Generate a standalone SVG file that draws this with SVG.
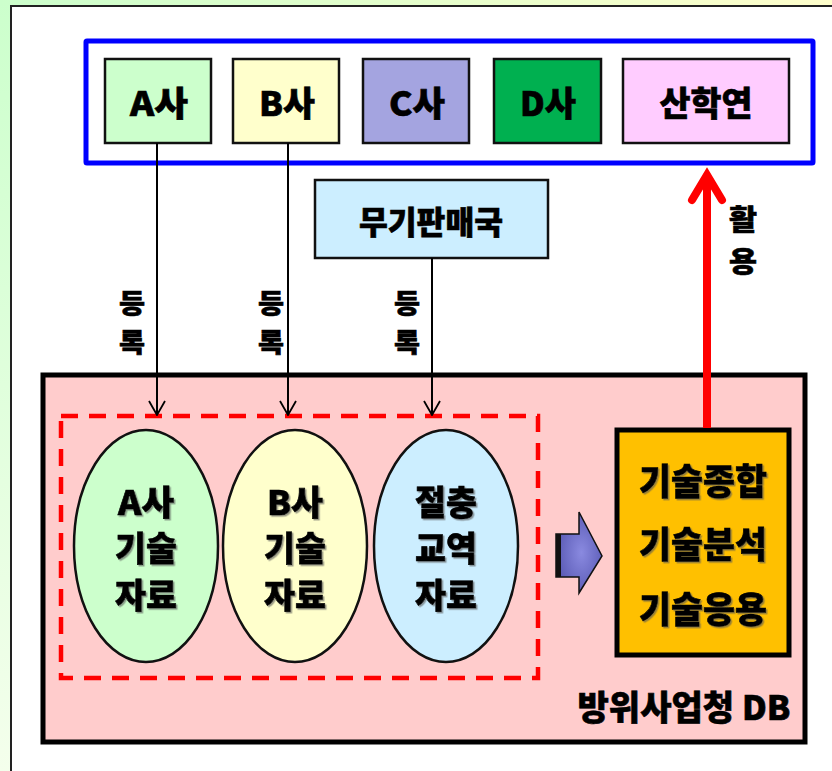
<svg xmlns="http://www.w3.org/2000/svg" width="832" height="771" viewBox="0 0 832 771">
<defs>
<linearGradient id="bgL" x1="0" y1="0" x2="0" y2="1"><stop offset="0" stop-color="#ccffcc"/><stop offset="1" stop-color="#f4ffec"/></linearGradient>
<linearGradient id="bgT" x1="0" y1="0" x2="1" y2="0"><stop offset="0" stop-color="#ccffcc"/><stop offset="1" stop-color="#ffffcc"/></linearGradient>
<radialGradient id="blk" cx="0.55" cy="0.5" r="0.6"><stop offset="0" stop-color="#8a8ae0"/><stop offset="1" stop-color="#5555b0"/></radialGradient>
<marker id="open" viewBox="0 0 20 20" refX="19" refY="10" markerWidth="20" markerHeight="20" markerUnits="userSpaceOnUse" orient="auto"><path d="M5,2 L19,10 L5,18" fill="none" stroke="#000" stroke-width="1.8"/></marker>
<filter id="sh" x="-10%" y="-10%" width="130%" height="130%"><feDropShadow dx="1.5" dy="1.5" stdDeviation="0.5" flood-color="#555" flood-opacity="0.6"/></filter>
</defs>
<style>
text{font-family:"Noto Sans CJK KR","Liberation Sans",sans-serif;font-weight:900;fill:#000;stroke:#000;stroke-width:0.6;text-anchor:middle}
.t34{font-size:34px}
.t32{font-size:32px}
.t26{font-size:26px}
.t28{font-size:28px}
.t36{font-size:36px}
.box{stroke:#111;stroke-width:2.5}
.ell{stroke:#111;stroke-width:2.5}
.conn{stroke:#000;stroke-width:2;fill:none}
</style>
<rect x="0" y="0" width="832" height="771" fill="#fff"/>
<rect x="0" y="0" width="11" height="771" fill="url(#bgL)"/>
<rect x="0" y="0" width="832" height="6" fill="url(#bgT)"/>
<path d="M11,771 V6 H832" fill="none" stroke="#222" stroke-width="2"/>

<g id="group-top">
<rect x="86" y="41" width="727" height="122" fill="#fff" stroke="#0000ff" stroke-width="5" rx="1"/>
</g>
<g id="node-A"><rect class="box" x="105" y="59" width="106" height="84" fill="#ccffcc"/><text class="t34" x="159" y="116" textLength="58" lengthAdjust="spacingAndGlyphs">A사</text></g>
<g id="node-B"><rect class="box" x="233" y="59" width="106" height="84" fill="#ffffcc"/><text class="t34" x="287" y="116" textLength="56" lengthAdjust="spacingAndGlyphs">B사</text></g>
<g id="node-C"><rect class="box" x="363" y="59" width="106" height="84" fill="#a4a4e0"/><text class="t34" x="417" y="116" textLength="56" lengthAdjust="spacingAndGlyphs">C사</text></g>
<g id="node-D"><rect class="box" x="494" y="59" width="107" height="84" fill="#00b050"/><text class="t34" x="548" y="116" textLength="56" lengthAdjust="spacingAndGlyphs">D사</text></g>
<g id="node-SHY"><rect class="box" x="623" y="59" width="166" height="84" fill="#ffccff"/><text class="t34" x="706" y="116" textLength="93" lengthAdjust="spacingAndGlyphs">산학연</text></g>

<g id="node-DSC"><rect class="box" x="315" y="180" width="233" height="78" fill="#cceeff"/><text class="t32" x="431" y="234" textLength="144" lengthAdjust="spacingAndGlyphs">무기판매국</text></g>

<g id="node-DB"><rect x="43" y="375" width="762" height="367" fill="#ffcccc" stroke="#000" stroke-width="5"/><text class="t34" x="684" y="720" textLength="213" lengthAdjust="spacingAndGlyphs">방위사업청 DB</text></g>

<g id="group-data"><rect x="61" y="416" width="477" height="262" fill="none" stroke="#ff0000" stroke-width="4.5" stroke-dasharray="17,11"/></g>

<g id="node-Adata"><ellipse class="ell" cx="146" cy="546" rx="72" ry="116" fill="#ccffcc"/>
<g filter="url(#sh)"><text class="t34" x="146" y="515" textLength="56" lengthAdjust="spacingAndGlyphs">A사</text><text class="t34" x="146" y="561" textLength="62" lengthAdjust="spacingAndGlyphs">기술</text><text class="t34" x="146" y="608" textLength="62" lengthAdjust="spacingAndGlyphs">자료</text></g></g>
<g id="node-Bdata"><ellipse class="ell" cx="295" cy="546" rx="72" ry="116" fill="#ffffcc"/>
<g filter="url(#sh)"><text class="t34" x="295" y="515" textLength="56" lengthAdjust="spacingAndGlyphs">B사</text><text class="t34" x="295" y="561" textLength="62" lengthAdjust="spacingAndGlyphs">기술</text><text class="t34" x="295" y="608" textLength="62" lengthAdjust="spacingAndGlyphs">자료</text></g></g>
<g id="node-Cdata"><ellipse class="ell" cx="446" cy="546" rx="72" ry="116" fill="#cceeff"/>
<g filter="url(#sh)"><text class="t34" x="446" y="515" textLength="62" lengthAdjust="spacingAndGlyphs">절충</text><text class="t34" x="446" y="561" textLength="62" lengthAdjust="spacingAndGlyphs">교역</text><text class="t34" x="446" y="608" textLength="62" lengthAdjust="spacingAndGlyphs">자료</text></g></g>

<g id="node-tech"><rect x="617" y="430" width="172" height="225" fill="#ffc000" stroke="#000" stroke-width="5"/>
<g filter="url(#sh)"><text class="t36" x="703" y="495" textLength="128" lengthAdjust="spacingAndGlyphs">기술종합</text><text class="t36" x="703" y="558" textLength="128" lengthAdjust="spacingAndGlyphs">기술분석</text><text class="t36" x="703" y="623" textLength="128" lengthAdjust="spacingAndGlyphs">기술응용</text></g></g>

<g id="connectors">
<line class="conn" x1="157" y1="143" x2="157" y2="415" marker-end="url(#open)"/>
<line class="conn" x1="288" y1="143" x2="288" y2="415" marker-end="url(#open)"/>
<line class="conn" x1="432" y1="258" x2="432" y2="415" marker-end="url(#open)"/>
<text class="t26" x="132" y="313" textLength="26" lengthAdjust="spacingAndGlyphs">등</text><text class="t26" x="132" y="352" textLength="26" lengthAdjust="spacingAndGlyphs">록</text>
<text class="t26" x="271" y="313" textLength="26" lengthAdjust="spacingAndGlyphs">등</text><text class="t26" x="271" y="352" textLength="26" lengthAdjust="spacingAndGlyphs">록</text>
<text class="t26" x="407" y="313" textLength="26" lengthAdjust="spacingAndGlyphs">등</text><text class="t26" x="407" y="352" textLength="26" lengthAdjust="spacingAndGlyphs">록</text>
<line x1="707" y1="428" x2="707" y2="180" stroke="#ff0000" stroke-width="8"/>
<path d="M692,200 L707,175 L722,200" fill="none" stroke="#ff0000" stroke-width="8" stroke-linecap="round" stroke-linejoin="miter"/>
<text class="t28" x="743" y="230" textLength="28" lengthAdjust="spacingAndGlyphs">활</text><text class="t28" x="743" y="272" textLength="28" lengthAdjust="spacingAndGlyphs">용</text>
<path d="M556,534 H579 V512 L602,556 L579,593 V577 H556 Z" fill="url(#blk)" stroke="#111" stroke-width="1.5"/>
<rect x="556" y="534" width="5" height="43" fill="#111"/>
</g>
</svg>
